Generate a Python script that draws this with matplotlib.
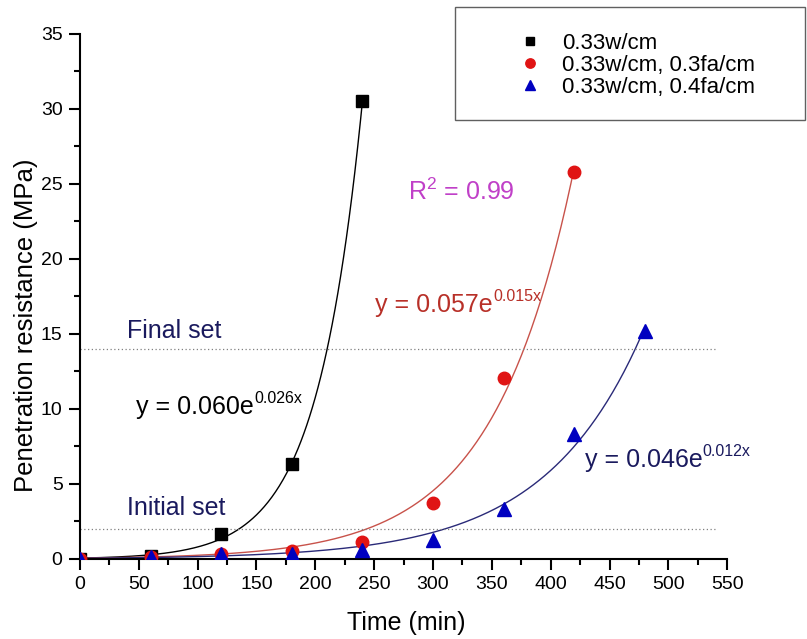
import numpy as np
import matplotlib.pyplot as plt
from matplotlib.patches import Rectangle
from matplotlib.ticker import MultipleLocator

plt.rcParams['font.family'] = ['Liberation Sans', 'DejaVu Sans']

# data
time_w = [0, 60, 120, 180, 240]
pr_w = [0.0, 0.2, 1.65, 6.3, 30.5]

time_fa3 = [0, 60, 120, 180, 240, 300, 360, 420]
pr_fa3 = [0.0, 0.15, 0.35, 0.55, 1.1, 3.75, 12.05, 25.8]

time_fa4 = [0, 60, 120, 180, 240, 300, 360, 420, 480]
pr_fa4 = [0.0, 0.1, 0.3, 0.35, 0.6, 1.25, 3.35, 8.3, 15.2]

labels = ['0.33w/cm', '0.33w/cm, 0.3fa/cm', '0.33w/cm, 0.4fa/cm']
guess = [(0.060, 0.026), (0.057, 0.015), (0.046, 0.012)]
eq_base = ['y = 0.060e', 'y = 0.057e', 'y = 0.046e']
eq_exp = ['0.026x', '0.015x', '0.012x']
initial_set = 2
final_set = 14


def fit_exp(x, y, a, b):
    """least squares fit of y = a*exp(b*x), Gauss-Newton from a guess"""
    x = np.asarray(x, float)
    y = np.asarray(y, float)
    for _ in range(50):
        f = a * np.exp(b * x)
        J = np.column_stack([np.exp(b * x), a * x * np.exp(b * x)])
        step, *_ = np.linalg.lstsq(J, y - f, rcond=None)
        a, b = a + step[0], b + step[1]
    return a, b


def eq_text(ax, x, y, base, sup, color):
    t = ax.text(x, y, base, color=color, fontsize=18, ha='left', va='center')
    ax.annotate(sup, xy=(1.0, 0.67), xycoords=t, color=color, fontsize=11.5,
                ha='left', va='baseline')


fig = plt.figure(figsize=(8.07, 6.39), dpi=100)
ax = fig.add_axes([0.0991, 0.1252, 0.8020, 0.8216])

series = [
    (time_w, pr_w, 's', 'black', 'black', 8),
    (time_fa3, pr_fa3, 'o', '#e01414', '#c8524a', 9),
    (time_fa4, pr_fa4, '^', '#0000c0', '#2a2a78', 10),
]

for (x, y, m, c, lc, ms), lab, (a0, b0) in zip(series, labels, guess):
    a, b = fit_exp(x, y, a0, b0)
    xx = np.linspace(0, max(x), 300)
    ax.plot(xx, a * np.exp(b * xx), color=lc, lw=1.0, zorder=2)
    ax.plot(x, y, m, color=c, ms=ms, label=lab, zorder=3, linestyle='none')

ax.plot([0, 540], [final_set, final_set], ls=(0, (1, 2)), color='#808080', lw=0.9)
ax.plot([0, 540], [initial_set, initial_set], ls=(0, (1, 2)), color='#808080', lw=0.9)

ax.text(40, 15.2, 'Final set', color='#1a1a5e', fontsize=18, va='center')
ax.text(40, 3.4, 'Initial set', color='#1a1a5e', fontsize=18, va='center')
eq_text(ax, 48, 10.1, eq_base[0], eq_exp[0], 'black')
eq_text(ax, 251, 16.9, eq_base[1], eq_exp[1], '#b83028')
eq_text(ax, 429, 6.6, eq_base[2], eq_exp[2], '#1a1a5e')
ax.text(279, 24.5, r'R$^{\mathregular{2}}$ = 0.99', color='#c040c8',
        fontsize=18, va='center')

ax.set_xlim(0, 550)
ax.set_ylim(0, 35)
ax.xaxis.set_major_locator(MultipleLocator(50))
ax.xaxis.set_minor_locator(MultipleLocator(25))
ax.yaxis.set_major_locator(MultipleLocator(5))
ax.yaxis.set_minor_locator(MultipleLocator(2.5))
ax.tick_params(which='major', direction='out', length=8, width=1.5,
               labelsize=14, pad=4.5)
ax.tick_params(which='minor', direction='out', length=4, width=1.5)
for s in ['top', 'right']:
    ax.spines[s].set_visible(False)
for s in ['left', 'bottom']:
    ax.spines[s].set_linewidth(1.5)

ax.set_xlabel('Time (min)', fontsize=18)
ax.xaxis.set_label_coords(0.504, -0.122)
ax.xaxis.label.set_va('center')
ax.set_ylabel('Penetration resistance (MPa)', fontsize=18.5)
ax.yaxis.set_label_coords(-0.0835, 0.445)
ax.yaxis.label.set_va('center')

# legend frame drawn on its own, legend entries without frame
fig.patches.append(Rectangle((0.5638, 0.8122), 0.4337, 0.1768,
                             transform=fig.transFigure, fill=False,
                             edgecolor='#606060', lw=1.0))
leg = fig.legend(loc='upper left', bbox_to_anchor=(508 / 807, 1 - 33 / 639),
                 fontsize=16, frameon=False, borderpad=0, borderaxespad=0,
                 handlelength=2.0, handletextpad=0.45, labelspacing=0.05,
                 markerscale=0.75)

fig.savefig('out.png', dpi=100)
